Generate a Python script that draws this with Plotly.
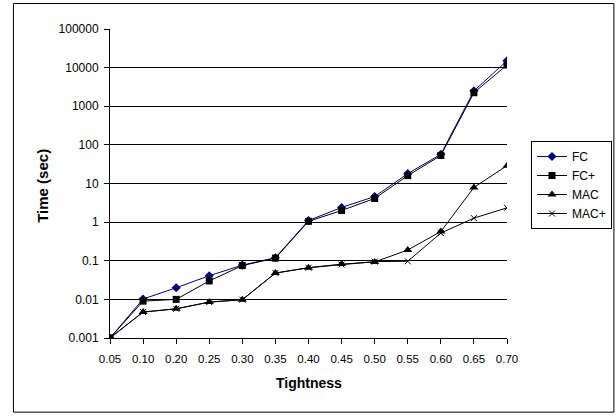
import plotly.graph_objects as go

categories = ["0.05", "0.10", "0.20", "0.25", "0.30", "0.35", "0.40",
              "0.45", "0.50", "0.55", "0.60", "0.65", "0.70"]
fc = [0.001, 0.0102, 0.02, 0.041, 0.077, 0.12, 1.1, 2.4, 4.6, 18, 57, 2500, 15000]
fc_plus = [0.001, 0.009, 0.01, 0.030, 0.075, 0.117, 1.05, 2.0, 4.1, 16, 53, 2240, 11700]
mac = [0.001, 0.0047, 0.0057, 0.0085, 0.0098, 0.048, 0.066, 0.082, 0.093, 0.19, 0.57, 7.9, 29]
mac_plus = [0.001, 0.0047, 0.0057, 0.0085, 0.0098, 0.048, 0.066, 0.08, 0.095, 0.097, 0.52, 1.27, 2.35]

ytick_vals = [0.001, 0.01, 0.1, 1, 10, 100, 1000, 10000, 100000]
ytick_text = ["0.001", "0.01", "0.1", "1", "10", "100", "1000", "10000", "100000"]

fig = go.Figure()
fig.add_trace(go.Scatter(x=categories, y=fc, name="FC", mode="lines+markers",
                         line=dict(color="#000080", width=1),
                         marker=dict(symbol="diamond", size=7, color="#000080")))
fig.add_trace(go.Scatter(x=categories, y=fc_plus, name="FC+", mode="lines+markers",
                         line=dict(color="black", width=1),
                         marker=dict(symbol="square", size=7, color="black")))
fig.add_trace(go.Scatter(x=categories, y=mac, name="MAC", mode="lines+markers",
                         line=dict(color="black", width=1),
                         marker=dict(symbol="triangle-up", size=8, color="black")))
fig.add_trace(go.Scatter(x=categories, y=mac_plus, name="MAC+", mode="lines+markers",
                         line=dict(color="black", width=1),
                         marker=dict(symbol="x-thin", size=6, color="black",
                                     line=dict(width=1, color="black"))))

W, H = 616, 418
L, R, T, B = 110, W - 506.7, 29, H - 338.3
pw = W - L - R
ph = H - T - B

def px_x(p):
    return (p - L) / pw

def px_y(p):
    return (H - B - p) / ph

fig.update_layout(
    width=W, height=H,
    margin=dict(l=L, r=R, t=T, b=B, pad=0, autoexpand=False),
    paper_bgcolor="white", plot_bgcolor="white",
    font=dict(family="Liberation Sans, Arial", size=12, color="black"),
    showlegend=True,
    legend=dict(xref="container", yref="container",
                x=531 / W, y=1 - 141 / H, xanchor="left", yanchor="top",
                bordercolor="black", borderwidth=1, bgcolor="white",
                font=dict(size=12), tracegroupgap=0, itemwidth=30),
    xaxis=dict(type="category", range=[0, 12], showline=True, linecolor="black",
               linewidth=1, ticks="outside", ticklen=5, tickcolor="black",
               showgrid=False, zeroline=False, tickfont=dict(size=11.5),
               automargin=False, ticklabelstandoff=5),
    yaxis=dict(type="log", range=[-3, 5], tickvals=ytick_vals, ticktext=ytick_text,
               showline=True, linecolor="black", linewidth=1, ticks="outside",
               ticklen=5, tickcolor="black", showgrid=True, gridcolor="black",
               gridwidth=1, zeroline=False, tickfont=dict(size=12),
               automargin=False, ticklabelstandoff=3),
    annotations=[
        dict(text="<b>Tightness</b>", xref="paper", yref="paper",
             x=0.5, y=px_y(383), showarrow=False,
             font=dict(size=14), xanchor="center", yanchor="middle"),
        dict(text="<b>Time (sec)</b>", xref="paper", yref="paper",
             x=px_x(43), y=px_y(186), showarrow=False, textangle=-90,
             font=dict(size=15), xanchor="center", yanchor="middle"),
    ],
    shapes=[dict(type="rect", xref="paper", yref="paper",
                 x0=px_x(13.5), x1=px_x(613.5),
                 y0=px_y(412.5), y1=px_y(3.5),
                 line=dict(color="black", width=1), fillcolor="rgba(0,0,0,0)")],
)

fig.write_html("out.html",
               config={"displayModeBar": False},
               post_script="document.body.style.margin='0';document.body.style.overflow='hidden';")
